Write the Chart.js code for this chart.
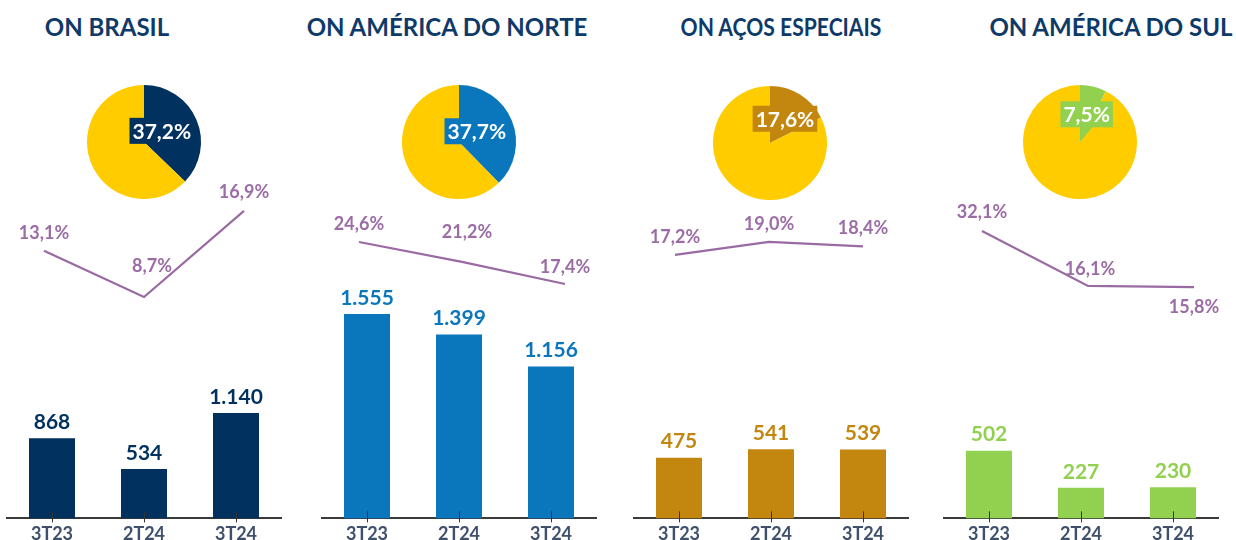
<!DOCTYPE html>
<html><head><meta charset="utf-8">
<script src="https://cdn.jsdelivr.net/npm/chart.js@4.4.1/dist/chart.umd.min.js"></script>
<style>
html,body{margin:0;padding:0;width:1236px;height:540px;overflow:hidden;background:#fff;}
.t{position:absolute;top:11px;font:bold 24px Lato,sans-serif;color:#0e3a69;white-space:nowrap;line-height:32px;}
canvas{position:absolute;}
</style></head><body>
<script>
// ---- data ----
const categories = ['3T23', '2T24', '3T24'];
const titles = ['ON BRASIL', 'ON AMÉRICA DO NORTE', 'ON AÇOS ESPECIAIS', 'ON AMÉRICA DO SUL'];
const ebitdaBrasil = [868, 534, 1140];
const ebitdaAmericaNorte = [1555, 1399, 1156];
const ebitdaAcosEspeciais = [475, 541, 539];
const ebitdaAmericaSul = [502, 227, 230];
const margemBrasil = [13.1, 8.7, 16.9];
const margemAmericaNorte = [24.6, 21.2, 17.4];
const margemAcosEspeciais = [17.2, 19.0, 18.4];
const margemAmericaSul = [32.1, 16.1, 15.8];
const participacao = [37.2, 37.7, 17.6, 7.5];

// ---- layout / style ----
const YELLOW = '#ffcc00';
const PURPLE = '#9a6aa3';
const panels = [
  {titleX: 107, titleScale: 1, color: '#01315f', bars: ebitdaBrasil, margin: margemBrasil, share: participacao[0],
   barLeft: 6, barMax: 2688, pie: [144, 142], line: [44, 244], lineRange: [5.557, 22.7],
   shifts: [[0, -18], [8, -31], [0, -19]]},
  {titleX: 447, titleScale: 1, color: '#0a76bc', bars: ebitdaAmericaNorte, margin: margemAmericaNorte, share: participacao[1],
   barLeft: 321, barMax: 1890, pie: [459, 142], line: [359, 565], lineRange: [9.51, 40.38],
   shifts: [[0, -18], [5, -30], [0, -17]]},
  {titleX: 781, titleScale: 0.88, color: '#c3860f', bars: ebitdaAcosEspeciais, margin: margemAcosEspeciais, share: participacao[2],
   barLeft: 633, barMax: 1942, pie: [770, 143], line: [675, 863], lineRange: [6.81, 31.74],
   shifts: [[0, -18], [0, -18], [0, -18]]},
  {titleX: 1111, titleScale: 1, color: '#92d050', bars: ebitdaAmericaSul, margin: margemAmericaSul, share: participacao[3],
   barLeft: 943, barMax: 1841, pie: [1080, 142], line: [982, 1194], lineRange: [3.3, 55.66],
   shifts: [[0, -19], [2, -17], [0, 20]]}
];

const fmtInt = v => String(v).replace(/\B(?=(\d{3})+(?!\d))/g, '.');
const fmtPct = v => v.toFixed(1).replace('.', ',') + '%';
const FONT = 'Lato, sans-serif';

function makeCanvas(left, top, w, h) {
  const c = document.createElement('canvas');
  c.width = w; c.height = h;
  c.style.left = left + 'px'; c.style.top = top + 'px';
  c.style.width = w + 'px'; c.style.height = h + 'px';
  document.body.appendChild(c);
  return c;
}

const baseOpts = {
  responsive: false, animation: false, events: [],
  plugins: {legend: {display: false}, tooltip: {enabled: false}}
};

const barValuePlugin = {
  id: 'barValues',
  afterDatasetsDraw(chart) {
    const ctx = chart.ctx;
    const meta = chart.getDatasetMeta(0);
    const ds = chart.data.datasets[0];
    ctx.save();
    ctx.font = 'bold 21px ' + FONT;
    ctx.fillStyle = ds.backgroundColor;
    ctx.textAlign = 'center';
    ctx.textBaseline = 'middle';
    meta.data.forEach((bar, i) => ctx.fillText(fmtInt(ds.data[i]), bar.x, bar.y - 16));
    // tick marks crossing the axis
    const xs = chart.scales.x;
    const yb = chart.chartArea.bottom;
    ctx.strokeStyle = '#333';
    ctx.lineWidth = 1;
    xs.ticks.forEach((t, i) => {
      const px = Math.round(xs.getPixelForTick(i)) + 0.5;
      ctx.beginPath(); ctx.moveTo(px, yb - 7); ctx.lineTo(px, yb + 4); ctx.stroke();
    });
    ctx.restore();
  }
};

const lineLabelPlugin = {
  id: 'lineLabels',
  afterDatasetsDraw(chart) {
    const ctx = chart.ctx;
    const meta = chart.getDatasetMeta(0);
    const ds = chart.data.datasets[0];
    const shifts = chart.options.plugins.lineLabels.shifts;
    ctx.save();
    ctx.font = 'bold 18px ' + FONT;
    ctx.fillStyle = '#9b6ca5';
    ctx.textAlign = 'center';
    ctx.textBaseline = 'middle';
    meta.data.forEach((pt, i) => ctx.fillText(fmtPct(ds.data[i]), pt.x + shifts[i][0], pt.y + shifts[i][1]));
    ctx.restore();
  }
};

const pieLabelPlugin = {
  id: 'pieLabel',
  afterDatasetsDraw(chart) {
    const ctx = chart.ctx;
    const arc = chart.getDatasetMeta(0).data[0];
    const ds = chart.data.datasets[0];
    const p = arc.getCenterPoint();
    ctx.save();
    ctx.font = 'bold 21px ' + FONT;
    const text = fmtPct(ds.data[0]);
    const tw = ctx.measureText(text).width;
    const bw = tw + 6, bh = 26;
    let bx = p.x - bw / 2;
    const maxRight = arc.x + arc.outerRadius * 0.88;
    if (bx + bw > maxRight) bx = maxRight - bw;
    const by = p.y - bh / 2;
    ctx.fillStyle = ds.backgroundColor[0];
    ctx.fillRect(bx, by, bw, bh);
    if (arc.y > by + bh) {
      ctx.beginPath();
      ctx.moveTo(arc.x, by + bh - 1);
      ctx.lineTo(arc.x + 13, by + bh - 1);
      ctx.lineTo(arc.x, arc.y);
      ctx.closePath();
      ctx.fill();
    }
    ctx.fillStyle = '#ffffff';
    ctx.textAlign = 'center';
    ctx.textBaseline = 'middle';
    ctx.fillText(text, bx + bw / 2, by + bh / 2 + 1);
    ctx.restore();
  }
};

panels.forEach((p, k) => {
  // title
  const t = document.createElement('div');
  t.className = 't';
  t.style.left = p.titleX + 'px';
  t.style.transform = 'translateX(-50%) scaleX(' + p.titleScale + ')';
  t.textContent = titles[k];
  document.body.appendChild(t);

  // pie
  const pc = makeCanvas(p.pie[0] - 80, p.pie[1] - 80, 160, 160);
  new Chart(pc, {
    type: 'pie',
    data: {labels: ['segmento', 'demais'], datasets: [{data: [p.share, 100 - p.share],
      backgroundColor: [p.color, YELLOW], borderWidth: 0, hoverOffset: 0}]},
    options: Object.assign({}, baseOpts, {layout: {padding: 23}}),
    plugins: [pieLabelPlugin]
  });

  // bars
  const bc = makeCanvas(p.barLeft, 270, 276, 280);
  new Chart(bc, {
    type: 'bar',
    data: {labels: categories, datasets: [{data: p.bars, backgroundColor: p.color,
      categoryPercentage: 1, barPercentage: 0.5}]},
    options: Object.assign({}, baseOpts, {
      layout: {padding: 0},
      scales: {
        x: {grid: {display: false, drawTicks: false},
            border: {display: true, color: '#3a3a3a', width: 2},
            ticks: {color: '#3f506c', font: {family: FONT, weight: 'bold', size: 18}, padding: 5}},
        y: {display: false, min: 0, max: p.barMax}
      }
    }),
    plugins: [barValuePlugin]
  });

  // margin line
  const lc = makeCanvas(p.line[0] - 40, 150, p.line[1] - p.line[0] + 80, 180);
  new Chart(lc, {
    type: 'line',
    data: {labels: categories, datasets: [{data: p.margin, borderColor: PURPLE, borderWidth: 2.25,
      pointRadius: 0, tension: 0, fill: false}]},
    options: Object.assign({}, baseOpts, {
      layout: {padding: {left: 40, right: 40, top: 0, bottom: 0}},
      plugins: {legend: {display: false}, tooltip: {enabled: false}, lineLabels: {shifts: p.shifts}},
      scales: {x: {display: false, offset: false}, y: {display: false, min: p.lineRange[0], max: p.lineRange[1]}}
    }),
    plugins: [lineLabelPlugin]
  });
});
</script>
</body></html>
